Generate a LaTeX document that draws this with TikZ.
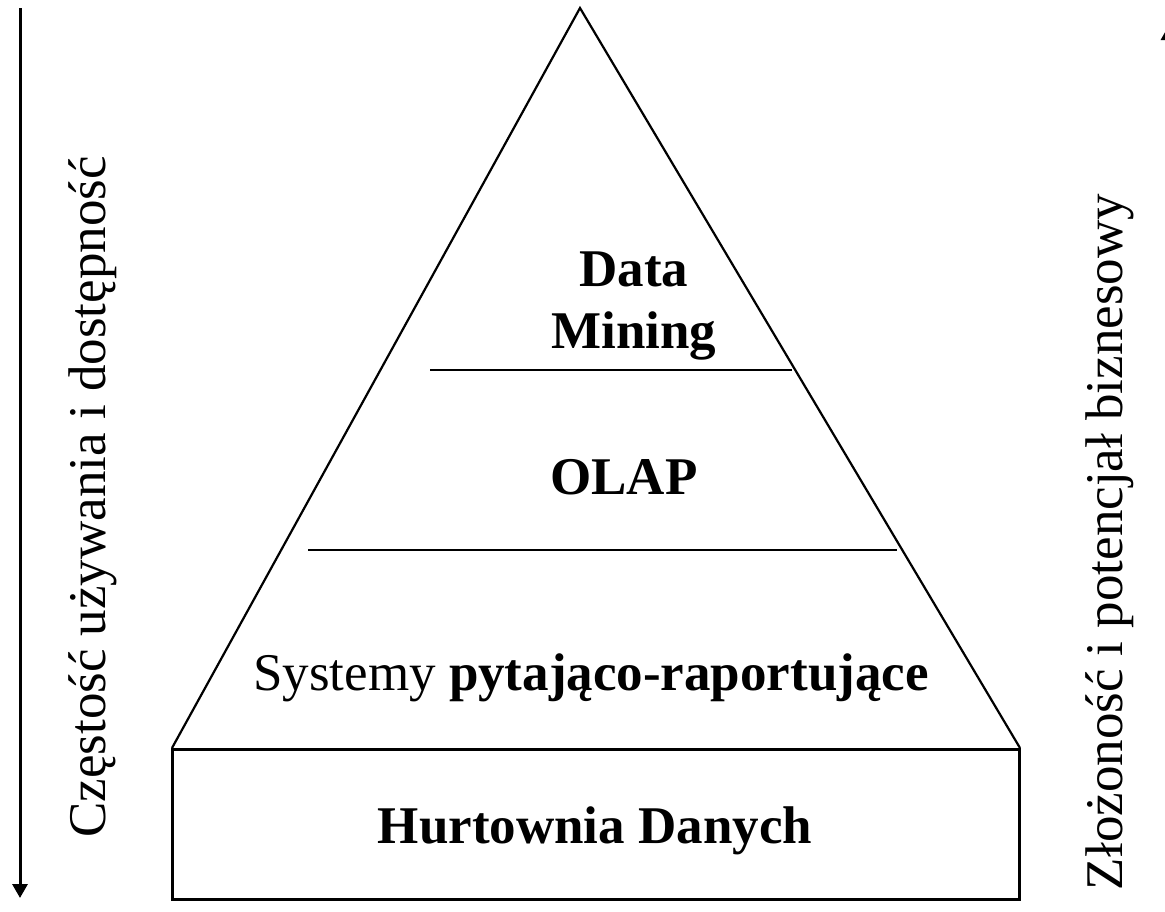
\documentclass[tikz,border=0pt]{standalone}
\usepackage{fontspec}
\setmainfont{Liberation Serif}
\usetikzlibrary{arrows.meta}
\tikzset{
  outline/.style={draw=black, line width=2.2pt},
  layerline/.style={draw=black, line width=2.4pt},
  boxline/.style={draw=black, line width=3pt},
  axisarrow/.style={draw=black, line width=3pt, -{Triangle[length=14pt,width=15pt]}},
  lbl/.style={inner sep=0pt, font=\fontsize{53}{62}\selectfont},
  blbl/.style={lbl, font=\fontsize{53}{62}\selectfont\bfseries},
}
\begin{document}
\begin{tikzpicture}[x=1pt,y=-1pt]
\useasboundingbox (0,0) rectangle (1165,911);
% pyramid
\coordinate (apex) at (580,8);
\coordinate (bl) at (172,748);
\coordinate (br) at (1020,748);
\draw[outline, line join=miter] (bl) -- (apex) -- (br);
% box
\coordinate (rtl) at (172,749);
\coordinate (rbr) at (1019,899);
\draw[boxline] (rtl) rectangle (rbr);
% layer lines
\coordinate (l1a) at (430,370);
\coordinate (l1b) at (792,370);
\coordinate (l2a) at (308,550);
\coordinate (l2b) at (897,550);
\draw[layerline] (l1a) -- (l1b);
\draw[layerline] (l2a) -- (l2b);
% labels
\node[blbl, align=center, anchor=north] (dm) at (634,252) {Data\\Mining};
\node[blbl, anchor=base] (olap) at (624,494) {OLAP};
\node[lbl, anchor=base] (sys) at (591,690) {Systemy \textbf{pytająco-raportujące}};
\node[blbl, anchor=base] (hd) at (595,843) {Hurtownia Danych};
% side axes
\coordinate (la) at (20,8);
\coordinate (lb) at (20,898);
\draw[axisarrow] (la) -- (lb);
\coordinate (ra) at (1168.5,900);
\coordinate (rb) at (1168.5,26);
\draw[axisarrow] (ra) -- (rb);
\node[lbl, rotate=90, anchor=base] (freq) at (105,497) {Częstość używania i dostępność};
\node[lbl, rotate=90, anchor=base] (comp) at (1122,542) {Złożoność i potencjał biznesowy};
\end{tikzpicture}
\end{document}
